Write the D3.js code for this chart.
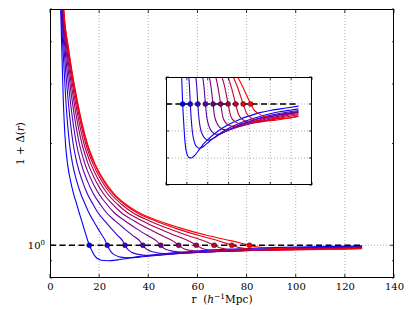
<!DOCTYPE html>
<html><head><meta charset="utf-8">
<script src="https://cdn.jsdelivr.net/npm/d3@7"></script>
<style>body{margin:0;background:#fff;} svg{display:block;} text{font-family:"DejaVu Serif",serif;fill:#000;}</style>
</head><body><svg id="chart" width="415" height="310"></svg>
<script>
// ---------- data ----------
const xTicks = [0, 20, 40, 60, 80, 100, 120, 140];
const xGrid = [20, 40, 60, 80, 100, 120];
const yMajorTicks = [1];
const yMinorTicks = [0.8, 0.9, 2, 3, 4, 5];
const insetYTicks = [0.85, 0.9, 0.95, 1.0, 1.05];
const insetYGrid = [0.9, 0.95, 1.0];
const rEnd = 127;

// value levels of 1+Delta(r) at which each curve's radius is read (upper branch)
const levels = [6.0, 5.0, 3.8, 2.7, 2.0, 1.75, 1.55, 1.42, 1.32, 1.25, 1.18, 1.12, 1.07, 1.03, 1.0];
const rCurve0 = [4.07, 4.35, 4.80, 5.40, 6.30, 7.10, 8.35, 9.60, 10.90, 11.85, 12.90, 13.85, 14.70, 15.40, 16.0];
const rCurve1 = [4.22, 4.55, 5.28, 6.42, 7.92, 9.12, 10.85, 12.52, 14.36, 15.78, 17.69, 19.52, 21.18, 22.55, 23.3];
const rCurve2 = [4.36, 4.74, 5.73, 7.35, 9.40, 10.96, 13.14, 15.20, 17.55, 19.46, 22.24, 24.98, 27.47, 29.58, 30.5];
const rCurve3 = [4.49, 4.92, 6.14, 8.19, 10.73, 12.63, 15.20, 17.64, 20.49, 22.91, 26.55, 30.22, 33.60, 36.50, 37.8];
const rCurve4 = [4.61, 5.08, 6.51, 8.94, 11.92, 14.12, 17.04, 19.85, 23.16, 26.06, 30.57, 35.20, 39.54, 43.29, 45.1];
const rCurve5 = [4.72, 5.23, 6.84, 9.59, 12.96, 15.40, 18.64, 21.77, 25.51, 28.92, 34.28, 39.88, 45.24, 49.97, 52.4];
const rCurve6 = [4.82, 5.36, 7.12, 10.13, 13.82, 16.49, 19.98, 23.41, 27.54, 31.44, 37.63, 44.22, 50.64, 56.50, 59.6];
const rCurve7 = [4.90, 5.47, 7.35, 10.57, 14.51, 17.34, 21.03, 24.71, 29.19, 33.55, 40.56, 48.15, 55.72, 62.81, 66.8];
const rCurve8 = [4.97, 5.55, 7.52, 10.87, 14.99, 17.93, 21.77, 25.65, 30.40, 35.20, 42.95, 51.50, 60.26, 68.77, 74.0];
const rCurve9 = [5.00, 5.60, 7.60, 11.00, 15.20, 18.20, 22.10, 26.10, 31.00, 36.10, 44.40, 53.80, 63.80, 74.00, 81.2];
const upperR = [rCurve0, rCurve1, rCurve2, rCurve3, rCurve4, rCurve5, rCurve6, rCurve7, rCurve8, rCurve9];

// lower branch [r, 1+Delta] after crossing unity
const low0 = [[17,0.965],[18,0.935],[19,0.917],[20,0.908],[22,0.901],[24,0.900],[26,0.902],[28,0.906],[32,0.916],[36,0.926],[40,0.934],[50,0.950],[60,0.962],[70,0.971],[80,0.978],[90,0.984],[100,0.988],[110,0.991],[120,0.994],[127,0.996]];
const low1 = [[24.2,0.972],[25.2,0.950],[26.5,0.935],[28,0.925],[30,0.920],[32,0.918],[34,0.919],[37,0.923],[40,0.928],[45,0.936],[50,0.943],[60,0.955],[70,0.964],[80,0.971],[90,0.977],[100,0.982],[110,0.986],[120,0.989],[127,0.991]];
const low2 = [[31.5,0.975],[33,0.955],[35,0.943],[37.5,0.936],[40,0.933],[43,0.934],[46,0.937],[50,0.942],[60,0.952],[70,0.961],[80,0.968],[90,0.974],[100,0.979],[110,0.983],[120,0.986],[127,0.988]];
const low3 = [[39,0.977],[41,0.960],[44,0.949],[48,0.944],[52,0.945],[56,0.948],[60,0.952],[70,0.960],[80,0.967],[90,0.973],[100,0.977],[110,0.981],[120,0.984],[127,0.986]];
const low4 = [[46.5,0.978],[49,0.964],[52,0.956],[57,0.952],[62,0.953],[70,0.958],[80,0.965],[90,0.971],[100,0.976],[110,0.980],[120,0.983],[127,0.985]];
const low5 = [[54.5,0.976],[57,0.966],[61,0.960],[66,0.958],[72,0.959],[80,0.963],[90,0.969],[100,0.974],[110,0.978],[120,0.982],[127,0.984]];
const low6 = [[62,0.978],[65,0.969],[70,0.964],[76,0.963],[84,0.965],[92,0.968],[100,0.972],[110,0.976],[120,0.980],[127,0.982]];
const low7 = [[69.5,0.981],[73,0.972],[78,0.967],[86,0.966],[95,0.968],[105,0.972],[115,0.976],[127,0.980]];
const low8 = [[77,0.984],[81,0.975],[87,0.970],[96,0.969],[105,0.970],[115,0.973],[127,0.978]];
const low9 = [[84,0.990],[88,0.983],[94,0.977],[100,0.975],[108,0.973],[118,0.974],[127,0.977]];
const lowerPts = [low0, low1, low2, low3, low4, low5, low6, low7, low8, low9];

const crossR = upperR.map(a => a[a.length - 1]);

// ---------- layout ----------
const svg = d3.select("#chart");
const M = {l: 50, r: 394, t: 9, b: 278};
const I = {l: 166, r: 312, t: 77, b: 185};

const x = d3.scaleLinear().domain([0, 140]).range([M.l, M.r]);
const y = d3.scaleLog().domain([0.8, 5]).range([M.b, M.t]);
const xi = d3.scaleLinear().domain([0, 140]).range([I.l, I.r]);
const yi = d3.scaleLinear().domain([0.85, 1.05]).range([I.b, I.t]);

const color = i => d3.interpolateRgb("rgb(0,0,255)", "rgb(255,0,0)")(i / 9);
const curves = upperR.map((rs, i) => rs.map((r, k) => [r, levels[k]]).concat(lowerPts[i]));

const defs = svg.append("defs");
defs.append("clipPath").attr("id", "mainClip").append("rect")
  .attr("x", M.l).attr("y", M.t).attr("width", M.r - M.l).attr("height", M.b - M.t);
defs.append("clipPath").attr("id", "insetClip").append("rect")
  .attr("x", I.l).attr("y", I.t).attr("width", I.r - I.l).attr("height", I.b - I.t);

function drawPanel(g, xs, ys, box, gridX, gridY, clipId) {
  const grid = g.append("g").attr("stroke", "#9a9a9a").attr("stroke-width", 0.8)
    .attr("stroke-dasharray", "1,2");
  gridX.forEach(v => grid.append("line").attr("x1", xs(v)).attr("x2", xs(v))
    .attr("y1", box.t).attr("y2", box.b));
  gridY.forEach(v => grid.append("line").attr("y1", ys(v)).attr("y2", ys(v))
    .attr("x1", box.l).attr("x2", box.r));

  const body = g.append("g").attr("clip-path", `url(#${clipId})`);
  const line = d3.line().x(d => xs(d[0])).y(d => ys(d[1])).curve(d3.curveMonotoneX);
  curves.forEach((c, i) => {
    body.append("path").attr("d", line(c)).attr("fill", "none")
      .attr("stroke", color(i)).attr("stroke-width", 1.1);
  });
  body.append("line").attr("x1", xs(0)).attr("x2", xs(rEnd))
    .attr("y1", ys(1)).attr("y2", ys(1))
    .attr("stroke", "#000").attr("stroke-width", 1.7).attr("stroke-dasharray", "6,3.5");
  crossR.forEach((r, i) => {
    body.append("circle").attr("cx", xs(r)).attr("cy", ys(1)).attr("r", 2.5)
      .attr("fill", color(i)).attr("stroke", "#000").attr("stroke-width", 0.4);
  });
}

function drawTicks(g, sx, sy, box, xv, yMaj, yMin, len, lenMin) {
  const t = g.append("g").attr("stroke", "#000").attr("stroke-width", 0.8);
  xv.forEach(v => {
    t.append("line").attr("x1", sx(v)).attr("x2", sx(v)).attr("y1", box.b).attr("y2", box.b - len);
    t.append("line").attr("x1", sx(v)).attr("x2", sx(v)).attr("y1", box.t).attr("y2", box.t + len);
  });
  yMaj.forEach(v => {
    t.append("line").attr("y1", sy(v)).attr("y2", sy(v)).attr("x1", box.l).attr("x2", box.l + len);
    t.append("line").attr("y1", sy(v)).attr("y2", sy(v)).attr("x1", box.r).attr("x2", box.r - len);
  });
  yMin.forEach(v => {
    t.append("line").attr("y1", sy(v)).attr("y2", sy(v)).attr("x1", box.l).attr("x2", box.l + lenMin);
    t.append("line").attr("y1", sy(v)).attr("y2", sy(v)).attr("x1", box.r).attr("x2", box.r - lenMin);
  });
  g.append("rect").attr("x", box.l + 0.5).attr("y", box.t + 0.5)
    .attr("width", box.r - box.l - 1).attr("height", box.b - box.t - 1)
    .attr("fill", "none").attr("stroke", "#000").attr("stroke-width", 1);
}

// ---- main panel ----
const main = svg.append("g");
drawPanel(main, x, y, M, xGrid, yMajorTicks, "mainClip");
drawTicks(main, x, y, M, xTicks, yMajorTicks, yMinorTicks, 4, 2);

const xAxis = d3.axisBottom(x).tickValues(xTicks).tickSize(0).tickPadding(5).tickFormat(d3.format("d"));
const xa = svg.append("g").attr("transform", `translate(0,${M.b})`).call(xAxis);
xa.select(".domain").remove();
xa.selectAll("text").attr("font-family", "DejaVu Serif").attr("font-size", 10).attr("fill", "#000");

const yl = svg.append("text").attr("x", 45).attr("y", y(1) + 3.5)
  .attr("text-anchor", "end").attr("font-size", 10);
yl.append("tspan").text("10");
yl.append("tspan").attr("dy", -4).attr("font-size", 7).text("0");

const xt = svg.append("text").attr("x", 222).attr("y", 303).attr("text-anchor", "middle").attr("font-size", 10.5);
xt.append("tspan").text("r\u00a0\u00a0(");
xt.append("tspan").attr("font-style", "italic").text("h");
xt.append("tspan").attr("dy", -4).attr("font-size", 7.5).text("−1");
xt.append("tspan").attr("dy", 4).text("Mpc)");

const ytl = svg.append("text").attr("transform", `translate(24,${(M.t + M.b) / 2}) rotate(-90)`)
  .attr("text-anchor", "middle").attr("font-size", 10.5);
ytl.append("tspan").text("1 + Δ(");
ytl.append("tspan").attr("font-style", "italic").text("r");
ytl.append("tspan").text(")");

// ---- inset ----
const inset = svg.append("g");
inset.append("rect").attr("x", I.l).attr("y", I.t).attr("width", I.r - I.l)
  .attr("height", I.b - I.t).attr("fill", "#fff");
drawPanel(inset, xi, yi, I, xGrid, insetYGrid, "insetClip");
drawTicks(inset, xi, yi, I, xTicks, insetYTicks, [], 3, 2);
</script>
</body></html>
